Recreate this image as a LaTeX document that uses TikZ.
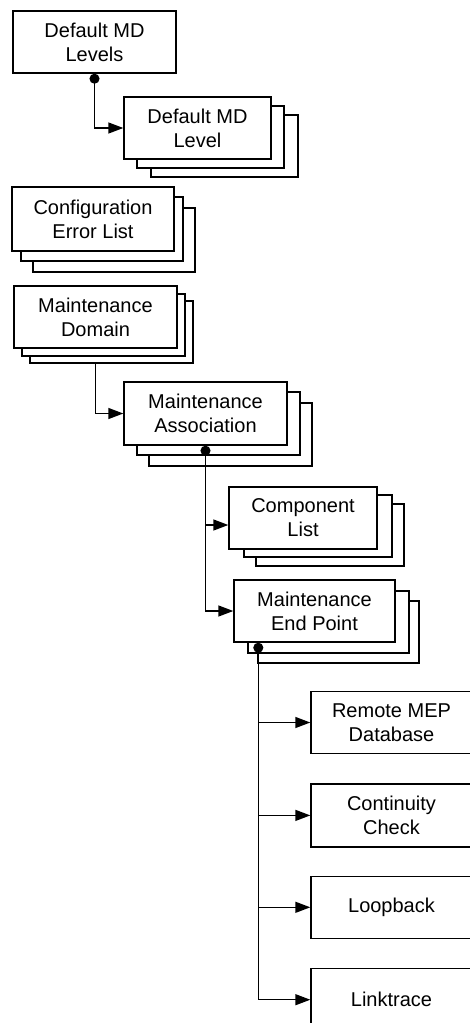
\documentclass[tikz,border=0pt]{standalone}
\usepackage{fontspec}
\setmainfont{Liberation Sans}
\usetikzlibrary{arrows.meta,shadows,positioning}

\begin{document}
\begin{tikzpicture}[x=1pt,y=-1pt,line width=1.4pt,
    font=\fontsize{20}{24}\selectfont,
    box/.style={draw,fill=white,align=center,inner sep=0pt,minimum width=#1,minimum height=62pt},
    box/.default=163pt,
    stack/.style n args={4}{copy shadow={shadow xshift=#3,shadow yshift=-#4,fill=white,draw},
                            copy shadow={shadow xshift=#1,shadow yshift=-#2,fill=white,draw}},
    link/.style={-{Triangle[length=15pt,width=11pt]}},
    dot/.style={{Circle[length=10pt]}-{Triangle[length=15pt,width=11pt]}}]
   \useasboundingbox (0,0) rectangle (470,1023);
   \clip (0,0) rectangle (470,1023);
   \node[box] (levels) at (94.5,42) {Default MD\\Levels};
   \node[box=147pt,stack={13pt}{9pt}{27pt}{18pt}] (level) at (197.5,128) {Default MD\\Level};
   \node[box=162pt,minimum height=64pt,stack={9pt}{10pt}{21pt}{21pt}] (errors) at (93,219) {Configuration\\Error List};
   \node[box,stack={8pt}{8pt}{16pt}{15pt}] (domain) at (95.5,317) {Maintenance\\Domain};
   \node[box,minimum height=63pt,stack={13pt}{10pt}{25pt}{21pt}] (assoc) at (205.5,413.5) {Maintenance\\Association};
   \node[box=148pt,stack={15pt}{8pt}{27pt}{17pt}] (complist) at (303,518) {Component\\List};
   \node[box=161pt,stack={14pt}{11pt}{24pt}{21pt}] (mep) at (314.5,611) {Maintenance\\End Point};
   \node[box=161pt] (rmep) at (391.5,722.5) {Remote MEP\\Database};
   \node[box=161pt,minimum height=63pt] (cc) [below=29pt of rmep] {Continuity\\Check};
   \node[box=161pt] (lb) [below=28pt of cc] {Loopback};
   \node[box=161pt] (lt) [below=29pt of lb] {Linktrace};
   \draw[dot] (levels.south) |- (level.west);
   \draw[link] ([yshift=-15pt]domain.south) |- (assoc.west);
   \draw[dot] (assoc.south) |- ([yshift=-7pt]complist.west);
   \draw[link] (assoc.south) |- (mep.west);
   \draw[dot] ([xshift=25pt]mep.south west) |- (rmep.west);
   \foreach \n in {cc,lb,lt}
     \draw[link] ([xshift=25pt]mep.south west) |- (\n.west);
\end{tikzpicture}
\end{document}
